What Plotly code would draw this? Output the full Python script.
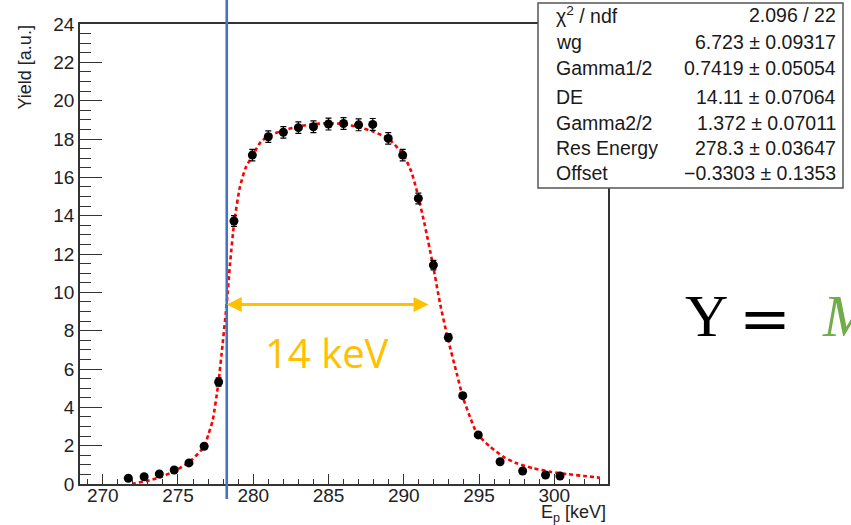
import plotly.graph_objects as go

# ---------------- data ----------------
energy = [271.7, 272.75, 273.76, 274.75, 275.73, 276.74, 277.7, 278.72, 279.94, 281.0,
          282.0, 283.0, 284.0, 285.0, 286.0, 287.0, 287.94, 288.97, 289.93, 290.97,
          291.97, 292.96, 293.92, 294.95, 296.4, 297.9, 299.42, 300.38]
yield_vals = [0.30, 0.38, 0.52, 0.73, 1.10, 1.97, 5.32, 13.72, 17.16, 18.12,
              18.35, 18.59, 18.64, 18.78, 18.81, 18.74, 18.76, 18.03, 17.16, 14.90,
              11.42, 7.65, 4.61, 2.56, 1.16, 0.68, 0.47, 0.42]
yield_err = [0.06, 0.07, 0.08, 0.09, 0.11, 0.14, 0.22, 0.28, 0.30, 0.30,
             0.30, 0.30, 0.31, 0.31, 0.31, 0.31, 0.31, 0.30, 0.30, 0.28,
             0.25, 0.20, 0.15, 0.11, 0.08, 0.06, 0.05, 0.05]

# fit curve
fit_x = [271.95, 272.14, 272.92, 273.92, 274.8, 275.69, 276.46, 276.79, 277.01, 277.3,
         277.68, 277.97, 278.24, 278.46, 278.74, 279.12, 279.5, 280.0, 280.5, 281.0,
         282.0, 283.0, 284.0, 285.0, 286.0, 287.0, 288.0, 289.0, 289.95, 290.5,
         290.9, 291.4, 291.92, 292.41, 292.9, 293.52, 293.92, 294.4, 294.89, 295.73,
         296.62, 297.51, 298.61, 299.72, 300.83, 301.93, 303.04]
fit_y = [0.0, 0.04, 0.16, 0.38, 0.69, 1.11, 1.69, 2.03, 2.56, 3.3,
         5.25, 7.34, 9.43, 11.51, 13.68, 15.51, 16.5, 17.2, 17.85, 18.15,
         18.45, 18.65, 18.78, 18.82, 18.78, 18.62, 18.38, 18.0, 17.2, 16.3,
         15.2, 13.5, 11.5, 9.43, 7.68, 5.77, 4.55, 3.5, 2.6, 1.95,
         1.42, 1.08, 0.82, 0.64, 0.52, 0.42, 0.33]

res_energy_line = 278.24
fwhm_start = 278.24
fwhm_end = 291.75
fwhm_level = 9.37
fwhm_label = "14 keV"

stat_labels = ["χ<sup>2</sup> / ndf", "wg", "Gamma1/2", "DE", "Gamma2/2", "Res Energy", "Offset"]
stat_values = ["2.096 / 22", "6.723 ± 0.09317", "0.7419 ± 0.05054", "14.11 ± 0.07064",
               "1.372 ± 0.07011", "278.3 ± 0.03647", "−0.3303 ± 0.1353"]

x_range = [268.49, 303.57]
y_range = [0, 24]

# ---------------- layout geometry (pixels) ----------------
W, H = 851, 525
L, R, T, B = 80, 608, 24, 484


def pxx(px):
    return (px - L) / (R - L)


def pxy(py):
    return (B - py) / (B - T)


FONT = "Liberation Sans, Arial, sans-serif"

fig = go.Figure()

fig.add_trace(go.Scatter(
    x=fit_x, y=fit_y, mode="lines",
    line=dict(color="#ff0000", width=2.6, dash="4px,3px", shape="spline", smoothing=0.6),
    hoverinfo="skip", showlegend=False))

fig.add_trace(go.Scatter(
    x=energy, y=yield_vals, mode="markers",
    marker=dict(color="black", size=9),
    error_y=dict(type="data", array=yield_err, color="black", thickness=1.2, width=3),
    showlegend=False))

fig.update_layout(
    width=W, height=H,
    margin=dict(l=L, r=W - R, t=T, b=H - B, pad=0),
    paper_bgcolor="white", plot_bgcolor="white",
    font=dict(family=FONT, size=19, color="#222222"),
    xaxis=dict(range=x_range, tick0=270, dtick=5, ticks="inside", ticklen=10,
               tickwidth=1.3, tickcolor="#333333", ticklabelstandoff=-7,
               showline=True, linecolor="#333333", linewidth=1.6, mirror=True,
               showgrid=False, zeroline=False,
               tickfont=dict(size=19, family=FONT, color="#222222"),
               minor=dict(dtick=1, tick0=270, ticks="inside", ticklen=5,
                          tickcolor="#333333", tickwidth=1.1, showgrid=False)),
    yaxis=dict(range=y_range, dtick=2, ticks="inside", ticklen=22,
               tickwidth=1.3, tickcolor="#333333",
               showline=True, linecolor="#333333", linewidth=1.6, mirror=True,
               showgrid=False, zeroline=False,
               tickfont=dict(size=19, family=FONT, color="#222222"),
               minor=dict(dtick=0.5, ticks="inside", ticklen=11,
                          tickcolor="#333333", tickwidth=1.1, showgrid=False)),
)

shapes = []
# blue vertical line
shapes.append(dict(type="line", xref="x", yref="paper",
                   x0=res_energy_line, x1=res_energy_line, y0=pxy(499), y1=pxy(0),
                   line=dict(color="#4472C4", width=2.6), layer="above"))
# stats box
shapes.append(dict(type="rect", xref="paper", yref="paper",
                   x0=pxx(538), x1=pxx(843), y0=pxy(188), y1=pxy(3),
                   line=dict(color="#555555", width=1.5), fillcolor="white", layer="above"))
fig.update_layout(shapes=shapes)

ann = []
# FWHM arrow
ann.append(dict(x=fwhm_start, y=fwhm_level, ax=fwhm_end, ay=fwhm_level,
                xref="x", yref="y", axref="x", ayref="y", text="",
                showarrow=True, arrowside="end+start", arrowhead=2, startarrowhead=2,
                arrowsize=1, startarrowsize=1, arrowwidth=3, arrowcolor="#FFC000",
                standoff=0, startstandoff=0))
ann.append(dict(x=pxx(327), y=pxy(352), xref="paper", yref="paper", text=fwhm_label,
                showarrow=False, xanchor="center", yanchor="middle",
                font=dict(family="Open Sans, sans-serif", size=40, color="#FFC000")))

# axis titles
ann.append(dict(x=pxx(25), y=pxy(67.5), xref="paper", yref="paper", text="Yield [a.u.]",
                showarrow=False, textangle=-90, xanchor="center", yanchor="middle",
                font=dict(family=FONT, size=18, color="#222222")))
ann.append(dict(x=pxx(608), y=pxy(500), xref="paper", yref="paper",
                text="E<sub>p</sub> [keV]", showarrow=False, xanchor="right", yanchor="top",
                font=dict(family=FONT, size=18, color="#222222")))

# stats text
row_y = [15, 41.7, 68.3, 96.7, 123.3, 147.7, 173.3]
for lab, val, ry in zip(stat_labels, stat_values, row_y):
    ann.append(dict(x=pxx(554), y=pxy(ry), xref="paper", yref="paper", text=lab,
                    showarrow=False, xanchor="left", yanchor="middle",
                    font=dict(family=FONT, size=19.5, color="#1a1a1a")))
    ann.append(dict(x=pxx(838), y=pxy(ry), xref="paper", yref="paper", text=val,
                    showarrow=False, xanchor="right", yanchor="middle",
                    font=dict(family=FONT, size=19.5, color="#1a1a1a")))

# equation fragment on the right
SERIF = "Liberation Serif, DejaVu Serif, serif"
ann.append(dict(x=pxx(706), y=pxy(316), xref="paper", yref="paper", text="Y",
                showarrow=False, xanchor="center", yanchor="middle",
                font=dict(family=SERIF, size=60, color="black")))
ann.append(dict(x=pxx(765), y=pxy(318), xref="paper", yref="paper", text="=",
                showarrow=False, xanchor="center", yanchor="middle",
                font=dict(family="DejaVu Serif, serif", size=62, color="black")))
ann.append(dict(x=pxx(820), y=pxy(316), xref="paper", yref="paper", text="<i>M</i>",
                showarrow=False, xanchor="left", yanchor="middle",
                font=dict(family=SERIF, size=60, color="#70AD47")))

fig.update_layout(annotations=ann)

fig.write_html("out.html")
